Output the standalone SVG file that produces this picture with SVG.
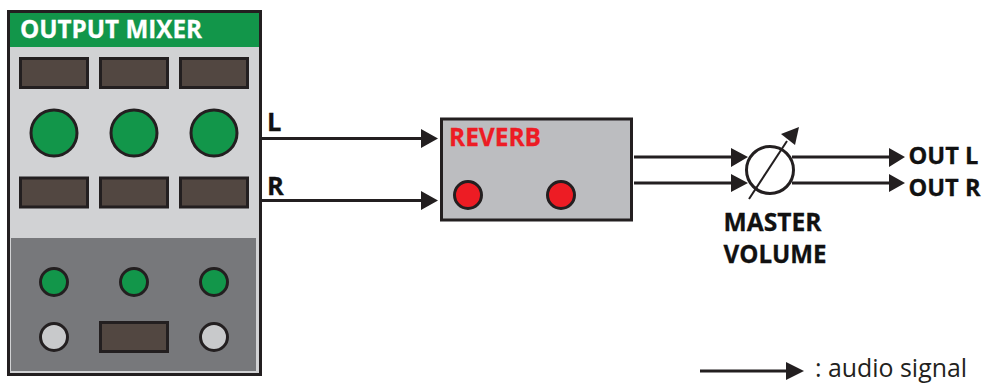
<svg xmlns="http://www.w3.org/2000/svg" width="983" height="384" viewBox="0 0 983 384">
<style>
.t{font-family:"Open Sans","Noto Sans",sans-serif;font-weight:700;font-size:25.500px;fill:#111;stroke:#111;stroke-width:.3}
.o{font-size:24px}
.disp{fill:#524741;stroke:#231f20;stroke-width:3}
.g{fill:#12964a;stroke:#231f20;stroke-width:3}
.w{fill:#c8c9cb;stroke:#231f20;stroke-width:3}
.r{fill:#ed1c24;stroke:#231f20;stroke-width:3}
.l{fill:none;stroke:#231f20;stroke-width:3}
.h{fill:#231f20}
</style>
<rect width="983" height="384" fill="#fff"/>
<g id="output-mixer">
<rect x="8.500" y="11.500" width="252" height="363" fill="#d1d2d4" stroke="#231f20" stroke-width="3"/>
<rect x="10" y="13" width="249" height="34" fill="#12964a"/>
<rect x="11" y="238" width="245" height="133" fill="#77787b"/>
<text x="20" y="37.500" class="t" style="fill:#fff;stroke:#fff" textLength="182" lengthAdjust="spacingAndGlyphs">OUTPUT MIXER</text>
<rect class="disp" x="20.500" y="58.500" width="67" height="29"/>
<rect class="disp" x="100.500" y="58.500" width="67" height="29"/>
<rect class="disp" x="180.500" y="58.500" width="67" height="29"/>
<circle class="g" cx="54" cy="133" r="23"/>
<circle class="g" cx="134" cy="133" r="23"/>
<circle class="g" cx="214" cy="133" r="23"/>
<rect class="disp" x="20.500" y="178" width="67" height="29"/>
<rect class="disp" x="100.500" y="178" width="67" height="29"/>
<rect class="disp" x="180.500" y="178" width="67" height="29"/>
<circle class="g" cx="54" cy="282" r="13.500"/>
<circle class="g" cx="134" cy="282" r="13.500"/>
<circle class="g" cx="214" cy="282" r="13.500"/>
<circle class="w" cx="54" cy="337" r="13.500"/>
<rect class="disp" x="100.500" y="322.500" width="67" height="29"/>
<circle class="w" cx="214" cy="337" r="13.500"/>
</g>
<g id="reverb">
<rect x="441.500" y="119" width="190" height="101" fill="#bcbdc0" stroke="#231f20" stroke-width="3"/>
<text x="449" y="146" class="t" style="fill:#ed1c24;stroke:#ed1c24" textLength="92" lengthAdjust="spacingAndGlyphs">REVERB</text>
<circle class="r" cx="468" cy="195" r="13.500"/>
<circle class="r" cx="561" cy="195" r="13.500"/>
</g>
<g id="master-volume">
<circle cx="770" cy="170" r="23.500" fill="#fff" stroke="#231f20" stroke-width="3"/>
<path d="M749 199L787 141" fill="none" stroke="#231f20" stroke-width="2"/>
<path class="h" d="M799 127L781 134L795 145Z"/>
<text class="t" x="723.500" y="231" textLength="98" lengthAdjust="spacingAndGlyphs">MASTER</text>
<text class="t" x="723.500" y="263" textLength="103" lengthAdjust="spacingAndGlyphs">VOLUME</text>
</g>
<g id="connectors">
<path class="l" d="M261 138.500H424M261 200.500H424M634 157H732M634 183H732M792 157H890M792 183H890"/>
<path class="h" d="M421 129L438 138.500L421 148ZM421 191L438 200.500L421 210ZM731 148L748 157L731 167ZM731 174L748 183L731 192ZM889 148L905 157L889 167ZM889 174L905 183L889 192Z"/>
<text class="t" x="267" y="130.500">L</text>
<text class="t" x="267" y="194.500">R</text>
<text class="t o" x="908.500" y="164" textLength="70" lengthAdjust="spacingAndGlyphs">OUT L</text>
<text class="t o" x="908.500" y="196" textLength="72" lengthAdjust="spacingAndGlyphs">OUT R</text>
</g>
<g id="legend">
<path class="l" d="M700 371H790"/>
<path class="h" d="M786 362L804 371L786 380Z"/>
<text x="815" y="377" textLength="152" lengthAdjust="spacingAndGlyphs" style="font-family:'Open Sans','Noto Sans',sans-serif;font-size:25.500px;fill:#231f20">: audio signal</text>
</g>
</svg>
